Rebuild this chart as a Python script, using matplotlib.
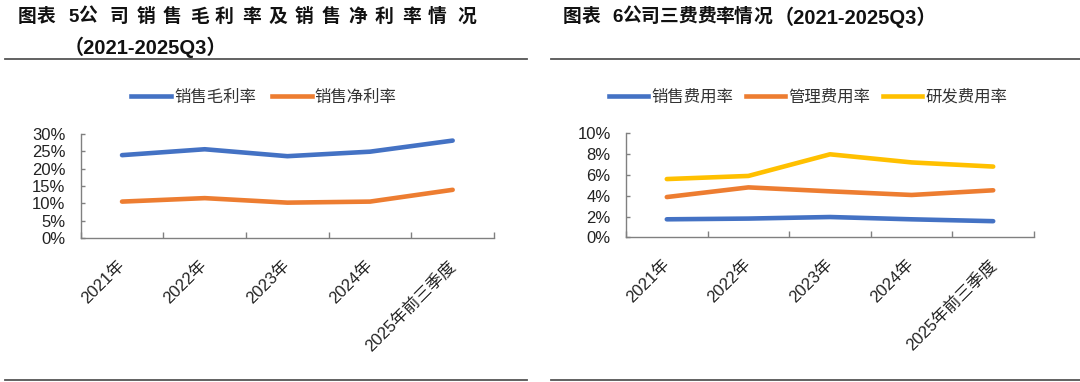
import matplotlib
matplotlib.use("Agg")
import matplotlib.pyplot as plt
from matplotlib.ticker import PercentFormatter
from matplotlib.lines import Line2D

plt.rcParams['font.family'] = ['Liberation Sans', 'Noto Sans CJK SC', 'DejaVu Sans']

categories = ['2021年', '2022年', '2023年', '2024年', '2025年前三季度']

gross_margin = [23.9, 25.6, 23.6, 24.9, 28.1]
net_margin = [10.5, 11.5, 10.2, 10.5, 13.9]

selling_rate = [1.73, 1.80, 1.95, 1.73, 1.55]
admin_rate = [3.87, 4.80, 4.42, 4.07, 4.52]
rd_rate = [5.60, 5.90, 7.98, 7.20, 6.80]

left_title_chars = ['图', '表', ' ', '5', '公', '司', '销', '售', '毛', '利', '率', '及', '销', '售', '净', '利', '率', '情', '况']
left_title_line2 = '（2021-2025Q3）'
right_title_chars = ['图', '表', ' ', '6', '公', '司', '三', '费', '费', '率', '情', '况']
right_title_tail = '（2021-2025Q3）'

BLUE = '#4472C4'
ORANGE = '#ED7D31'
YELLOW = '#FFC000'

W, H = 1080, 382
fig = plt.figure(figsize=(W / 100, H / 100), dpi=100)


def fx(px):
    return px / W


def fy(py):
    return 1 - py / H


def style_axes(ax, ymax, step, labels):
    x = list(range(len(labels)))
    ax.set_xlim(-0.5, len(labels) - 0.5)
    ax.set_ylim(0, ymax)
    ax.set_yticks([i * step for i in range(int(round(ymax / step)) + 1)])
    ax.yaxis.set_major_formatter(PercentFormatter(decimals=0))
    ax.set_xticks([i - 0.5 for i in range(len(labels) + 1)])
    ax.set_xticklabels([])
    ax.set_xticks(x, minor=True)
    ax.set_xticklabels(labels, minor=True, rotation=45, ha='right', va='center',
                       rotation_mode='anchor', fontsize=12, color='#222222')
    ax.tick_params(axis='x', which='major', direction='in', length=4, color='#808080', width=1)
    ax.tick_params(axis='x', which='minor', length=0, pad=18)
    ax.tick_params(axis='y', direction='in', length=3, color='#808080', width=1,
                   labelsize=12, labelcolor='#222222', pad=11)
    for s in ['top', 'right']:
        ax.spines[s].set_visible(False)
    for s in ['left', 'bottom']:
        ax.spines[s].set_color('#808080')
        ax.spines[s].set_linewidth(1)


line_kw = dict(lw=3.3, solid_capstyle='round', solid_joinstyle='round')

# Left chart
ax1 = fig.add_axes([fx(80.7), fy(238), fx(494 - 80.7), (238 - 134) / H])
x = list(range(len(categories)))
ax1.plot(x, gross_margin, color=BLUE, **line_kw)
ax1.plot(x, net_margin, color=ORANGE, **line_kw)
style_axes(ax1, 30, 5, categories)

# Right chart
ax2 = fig.add_axes([fx(626), fy(237.3), fx(1034 - 626), (237.3 - 133.3) / H])
ax2.plot(x, selling_rate, color=BLUE, **line_kw)
ax2.plot(x, admin_rate, color=ORANGE, **line_kw)
ax2.plot(x, rd_rate, color=YELLOW, **line_kw)
style_axes(ax2, 10, 2, categories)

# Legends
h1 = [Line2D([], [], color=BLUE, lw=3.3), Line2D([], [], color=ORANGE, lw=3.3)]
fig.legend(h1, ['销售毛利率', '销售净利率'], loc='center', bbox_to_anchor=(fx(264), fy(97)),
           ncol=2, frameon=False, fontsize=11.8, handlelength=2.4, handletextpad=0.2,
           columnspacing=1.0, labelcolor='#333333')
h2 = [Line2D([], [], color=BLUE, lw=3.3), Line2D([], [], color=ORANGE, lw=3.3),
      Line2D([], [], color=YELLOW, lw=3.3)]
fig.legend(h2, ['销售费用率', '管理费用率', '研发费用率'], loc='center',
           bbox_to_anchor=(fx(808), fy(97)), ncol=3, frameon=False, fontsize=11.8,
           handlelength=2.4, handletextpad=0.2, columnspacing=0.75, labelcolor='#333333')

# Titles
tfont = dict(fontsize=13.5, fontweight='bold', color='#111111',
             family=['Liberation Sans', 'Noto Sans CJK SC'])
tfont2 = dict(tfont, fontsize=14.5)
lx = [18, 37, 55, 68, 78, 110, 137, 163, 190, 215, 242, 268, 295, 322, 348, 375, 402, 428, 457]
for ch, px in zip(left_title_chars, lx):
    if ch.strip():
        fig.text(fx(px), fy(17), ch, ha='left', va='center', **tfont)
fig.text(fx(64), fy(47), left_title_line2, ha='left', va='center', **tfont2)

rx = [563, 582, 600, 612, 622, 641, 660, 678, 697, 715, 734, 753]
for ch, px in zip(right_title_chars, rx):
    if ch.strip():
        fig.text(fx(px), fy(17), ch, ha='left', va='center', **tfont)
fig.text(fx(774), fy(17), right_title_tail, ha='left', va='center', **tfont2)

# Separator lines
for (x0, x1) in [(5, 527), (551, 1080)]:
    for yy in [59, 380]:
        fig.add_artist(Line2D([fx(x0), fx(x1)], [fy(yy), fy(yy)], color='#555555', lw=1.3))

fig.savefig('out.png', dpi=100)
